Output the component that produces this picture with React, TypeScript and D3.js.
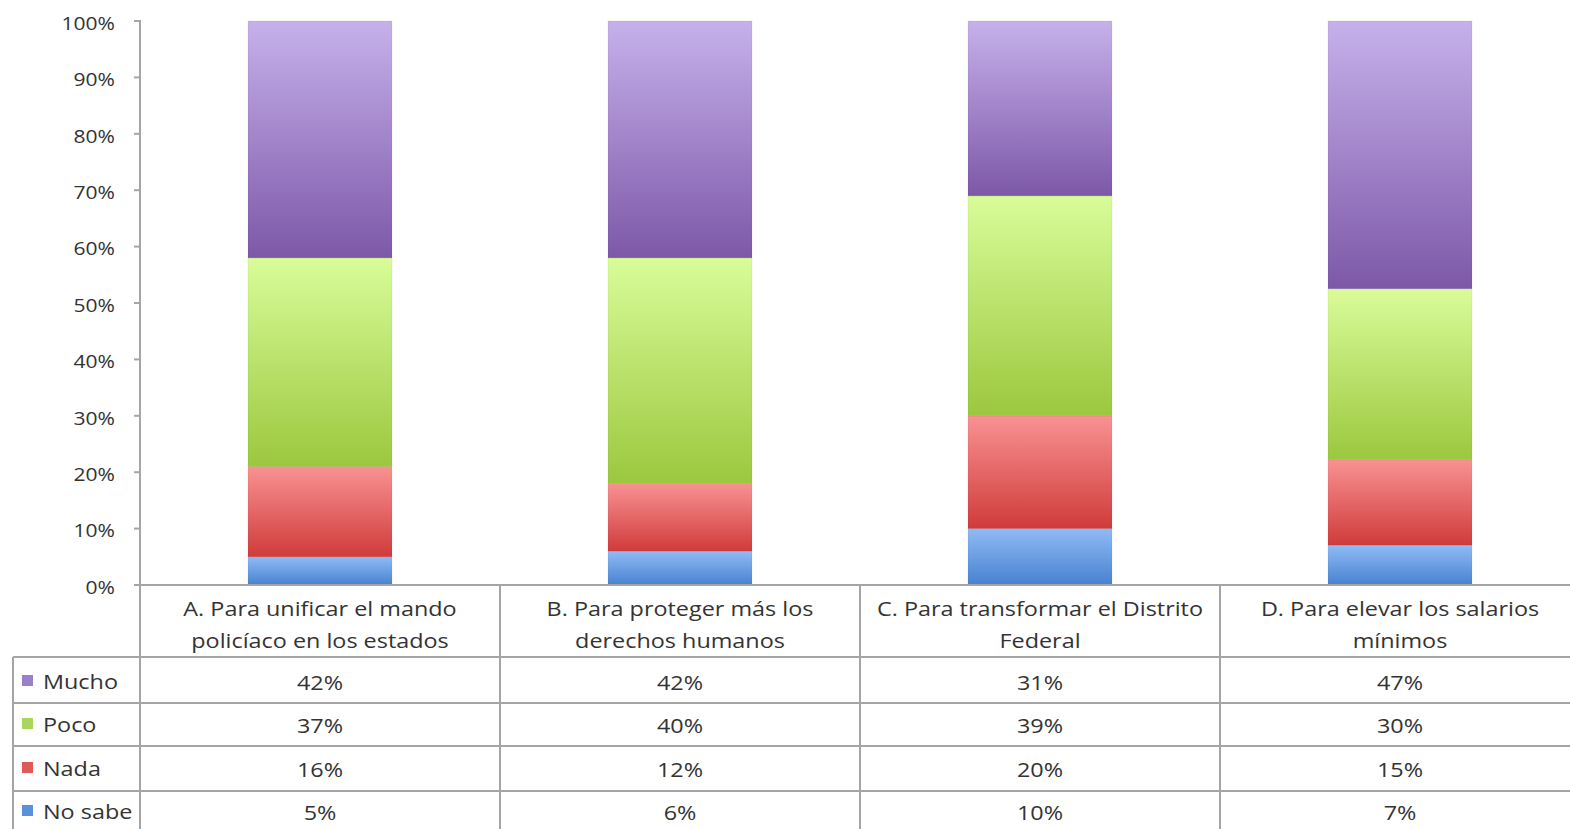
import React from "react";
import * as d3 from "d3";

const categories = [
  ["A. Para unificar el mando", "policíaco en los estados"],
  ["B. Para proteger más los", "derechos humanos"],
  ["C. Para transformar el Distrito", "Federal"],
  ["D. Para elevar los salarios", "mínimos"],
];
const catKeys = ["A", "B", "C", "D"];
const seriesNames = ["Mucho", "Poco", "Nada", "No sabe"];
const mucho = [42, 42, 31, 47];
const poco = [37, 40, 39, 30];
const nada = [16, 12, 20, 15];
const noSabe = [5, 6, 10, 7];
const yTicks = [0, 10, 20, 30, 40, 50, 60, 70, 80, 90, 100];

const gradients: Record<string, [string, string]> = {
  Mucho: ["#c6b1eb", "#7d58a8"],
  Poco: ["#d9fc99", "#9bc83e"],
  Nada: ["#f99292", "#d03b3b"],
  "No sabe": ["#90bbf5", "#4782d0"],
};
const swatch: Record<string, string> = {
  Mucho: "#9a7fcb",
  Poco: "#aad65c",
  Nada: "#e05a5a",
  "No sabe": "#5b91dc",
};

const SX = 1.17;

function T(props: { x: number; y: number; anchor?: string; size: number; children: React.ReactNode; fill: string }) {
  return (
    <text
      transform={`translate(${props.x},${props.y}) scale(${SX},1)`}
      textAnchor={props.anchor || "start"}
      dominantBaseline="middle"
      fontSize={props.size}
      fill={props.fill}
    >
      {props.children}
    </text>
  );
}

export default function App() {
  const W = 1570, H = 829;
  const x = d3.scaleBand<string>().domain(catKeys).range([140, 1580]).paddingInner(0.6).paddingOuter(0.3);
  const y = d3.scaleLinear().domain([0, 1]).range([585, 21]);
  const valuesBySeries: Record<string, number[]> = { Mucho: mucho, Poco: poco, Nada: nada, "No sabe": noSabe };
  const rows = catKeys.map((k, i) => ({ key: k, Mucho: mucho[i], Poco: poco[i], Nada: nada[i], "No sabe": noSabe[i] }));
  const stack = d3.stack<any>().keys(["No sabe", "Nada", "Poco", "Mucho"]).offset(d3.stackOffsetExpand);
  const stacked = stack(rows);
  const step = x.step();
  const colEdges = catKeys.map((k) => (x(k) as number) - (step - x.bandwidth()) / 2);
  const lineColor = "#a5a5a5";
  const font = "'Open Sans', Lato, sans-serif";
  const textColor = "#333";
  const rowLines = [657, 703, 746, 791];
  const rowCenters = [684, 727, 771, 814];

  return (
    <svg width={W} height={H} style={{ position: "absolute", left: 0, top: 0, background: "#fff" }} fontFamily={font}>
      <defs>
        {seriesNames.map((s, i) => (
          <linearGradient key={s} id={`g${i}`} x1="0" y1="0" x2="0" y2="1">
            <stop offset="0" stopColor={gradients[s][0]} />
            <stop offset="1" stopColor={gradients[s][1]} />
          </linearGradient>
        ))}
      </defs>
      {stacked.map((layer) => {
        const gi = seriesNames.indexOf(layer.key);
        return (
          <g key={layer.key}>
            {layer.map((d, j) => (
              <rect
                key={j}
                x={x(catKeys[j])}
                width={x.bandwidth()}
                y={y(d[1])}
                height={y(d[0]) - y(d[1])}
                fill={`url(#g${gi})`}
                stroke="rgba(0,0,0,0.06)"
                strokeWidth={1}
              />
            ))}
          </g>
        );
      })}
      <line x1={140} x2={140} y1={20} y2={829} stroke={lineColor} strokeWidth={2} />
      {yTicks.map((t) => (
        <g key={t}>
          <line x1={134} x2={140} y1={y(t / 100)} y2={y(t / 100)} stroke={lineColor} strokeWidth={2} />
          <T x={115} y={y(t / 100) + 4} anchor="end" size={18} fill={textColor}>
            {t}%
          </T>
        </g>
      ))}
      <line x1={134} x2={W} y1={585} y2={585} stroke={lineColor} strokeWidth={2} />
      {rowLines.map((ry) => (
        <line key={ry} x1={13} x2={W} y1={ry} y2={ry} stroke={lineColor} strokeWidth={2} />
      ))}
      <line x1={13} x2={13} y1={657} y2={H} stroke={lineColor} strokeWidth={2} />
      {colEdges.slice(1).map((cx, i) => (
        <line key={i} x1={cx} x2={cx} y1={585} y2={H} stroke={lineColor} strokeWidth={2} />
      ))}
      {categories.map((lines, i) => {
        const cx = (x(catKeys[i]) as number) + x.bandwidth() / 2;
        return (
          <g key={i}>
            {lines.map((l, li) => (
              <T key={li} x={cx} y={611 + li * 32} anchor="middle" size={20} fill={textColor}>
                {l}
              </T>
            ))}
          </g>
        );
      })}
      {seriesNames.map((s, ri) => (
        <g key={s}>
          <rect x={22} y={rowCenters[ri] - 9} width={11} height={11} fill={swatch[s]} />
          <T x={43} y={rowCenters[ri]} size={20} fill={textColor}>
            {s}
          </T>
          {valuesBySeries[s].map((v, ci) => (
            <T key={ci} x={(x(catKeys[ci]) as number) + x.bandwidth() / 2} y={rowCenters[ri] + 1} anchor="middle" size={20} fill={textColor}>
              {v}%
            </T>
          ))}
        </g>
      ))}
    </svg>
  );
}
